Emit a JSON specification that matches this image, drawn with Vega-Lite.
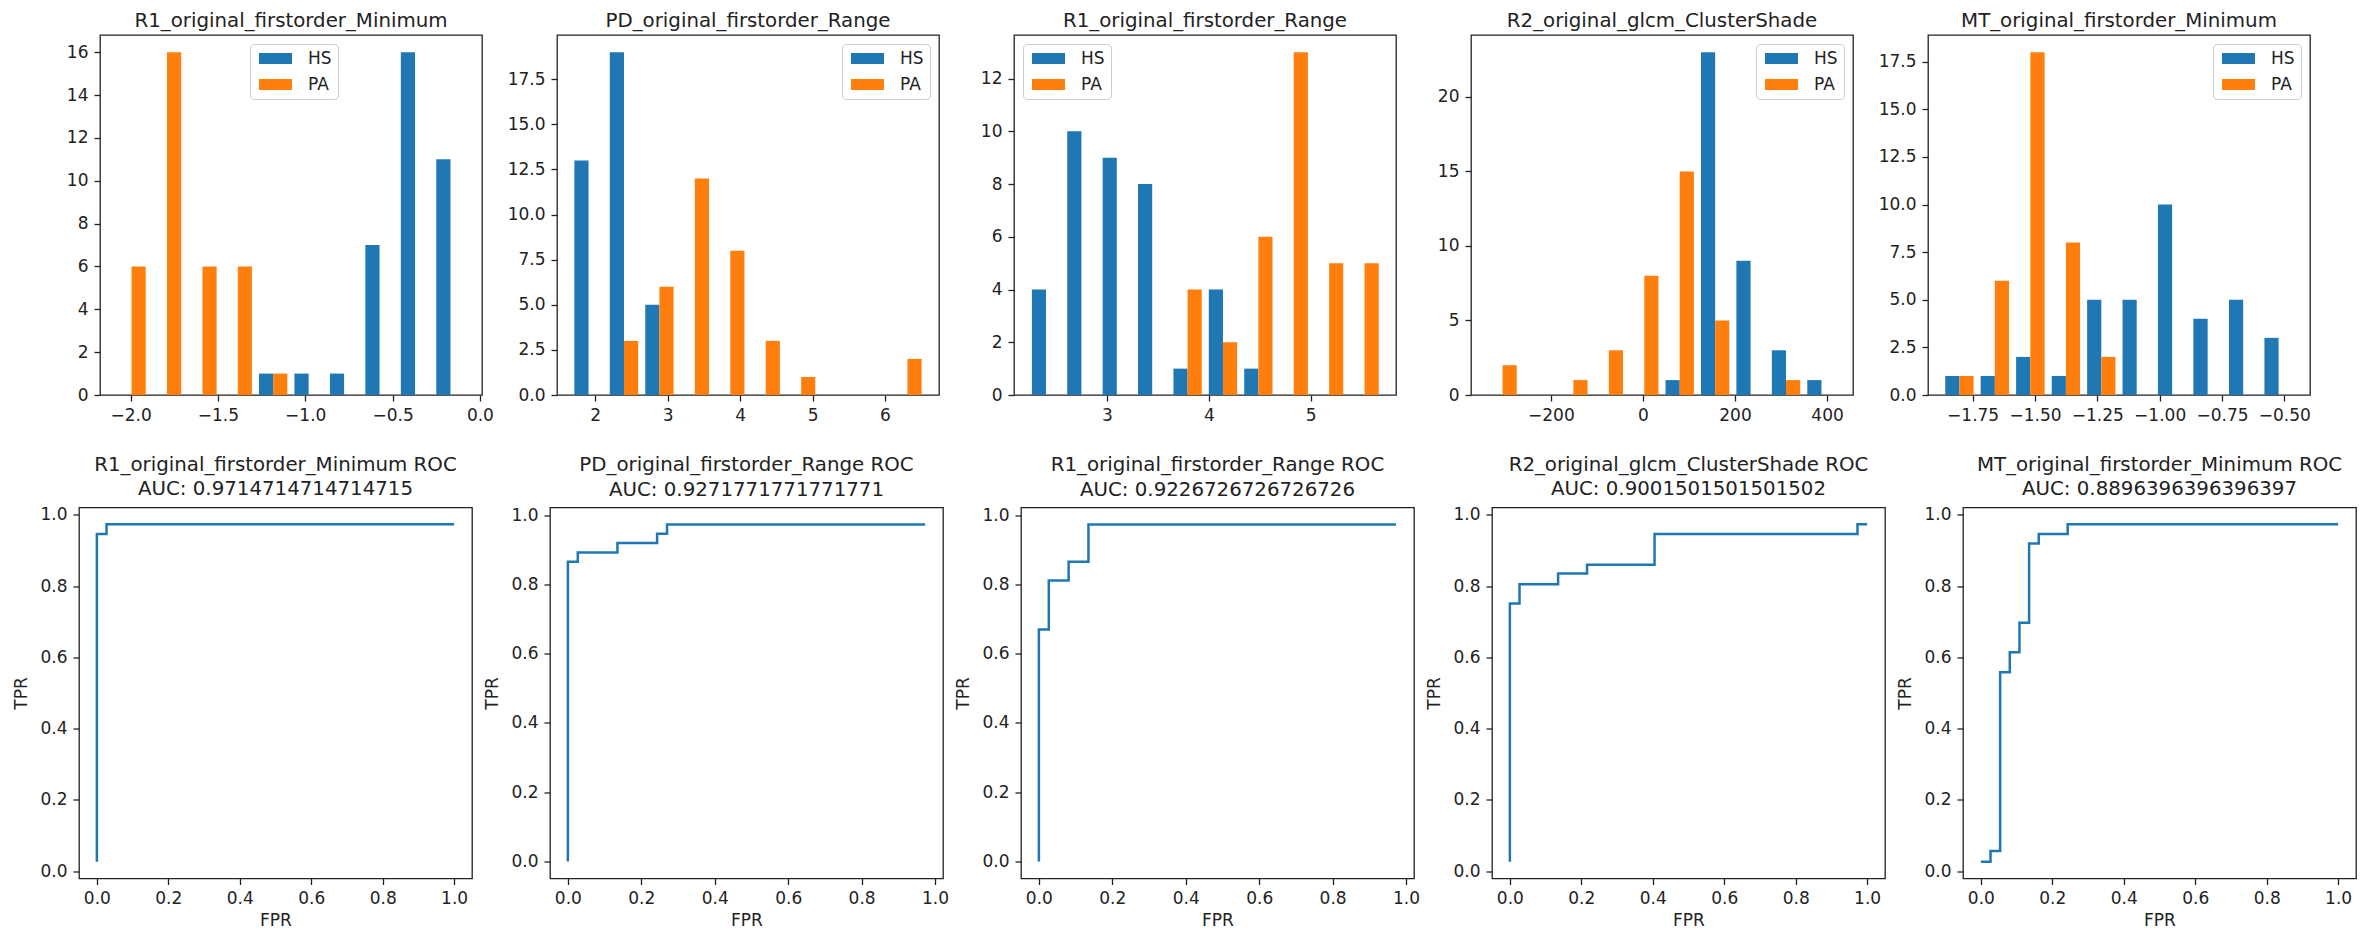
{
  "$schema": "https://vega.github.io/schema/vega-lite/v6.json",
  "background": "white",
  "padding": {"left": 12, "top": 10, "right": 0, "bottom": 0},
  "datasets": {
    "hist": [
      {"feature": "R1_original_firstorder_Minimum", "lo": -2.096, "hi": -1.893, "group": "PA", "count": 6},
      {"feature": "R1_original_firstorder_Minimum", "lo": -1.893, "hi": -1.690, "group": "PA", "count": 16},
      {"feature": "R1_original_firstorder_Minimum", "lo": -1.690, "hi": -1.487, "group": "PA", "count": 6},
      {"feature": "R1_original_firstorder_Minimum", "lo": -1.487, "hi": -1.285, "group": "PA", "count": 6},
      {"feature": "R1_original_firstorder_Minimum", "lo": -1.285, "hi": -1.082, "group": "HS", "count": 1},
      {"feature": "R1_original_firstorder_Minimum", "lo": -1.285, "hi": -1.082, "group": "PA", "count": 1},
      {"feature": "R1_original_firstorder_Minimum", "lo": -1.082, "hi": -0.879, "group": "HS", "count": 1},
      {"feature": "R1_original_firstorder_Minimum", "lo": -0.879, "hi": -0.676, "group": "HS", "count": 1},
      {"feature": "R1_original_firstorder_Minimum", "lo": -0.676, "hi": -0.473, "group": "HS", "count": 7},
      {"feature": "R1_original_firstorder_Minimum", "lo": -0.473, "hi": -0.270, "group": "HS", "count": 16},
      {"feature": "R1_original_firstorder_Minimum", "lo": -0.270, "hi": -0.067, "group": "HS", "count": 11},

      {"feature": "PD_original_firstorder_Range", "lo": 1.664, "hi": 2.153, "group": "HS", "count": 13},
      {"feature": "PD_original_firstorder_Range", "lo": 2.153, "hi": 2.642, "group": "HS", "count": 19},
      {"feature": "PD_original_firstorder_Range", "lo": 2.153, "hi": 2.642, "group": "PA", "count": 3},
      {"feature": "PD_original_firstorder_Range", "lo": 2.642, "hi": 3.131, "group": "HS", "count": 5},
      {"feature": "PD_original_firstorder_Range", "lo": 2.642, "hi": 3.131, "group": "PA", "count": 6},
      {"feature": "PD_original_firstorder_Range", "lo": 3.131, "hi": 3.620, "group": "PA", "count": 12},
      {"feature": "PD_original_firstorder_Range", "lo": 3.620, "hi": 4.109, "group": "PA", "count": 8},
      {"feature": "PD_original_firstorder_Range", "lo": 4.109, "hi": 4.598, "group": "PA", "count": 3},
      {"feature": "PD_original_firstorder_Range", "lo": 4.598, "hi": 5.087, "group": "PA", "count": 1},
      {"feature": "PD_original_firstorder_Range", "lo": 6.065, "hi": 6.554, "group": "PA", "count": 2},

      {"feature": "R1_original_firstorder_Range", "lo": 2.228, "hi": 2.575, "group": "HS", "count": 4},
      {"feature": "R1_original_firstorder_Range", "lo": 2.575, "hi": 2.923, "group": "HS", "count": 10},
      {"feature": "R1_original_firstorder_Range", "lo": 2.923, "hi": 3.270, "group": "HS", "count": 9},
      {"feature": "R1_original_firstorder_Range", "lo": 3.270, "hi": 3.618, "group": "HS", "count": 8},
      {"feature": "R1_original_firstorder_Range", "lo": 3.618, "hi": 3.965, "group": "HS", "count": 1},
      {"feature": "R1_original_firstorder_Range", "lo": 3.618, "hi": 3.965, "group": "PA", "count": 4},
      {"feature": "R1_original_firstorder_Range", "lo": 3.965, "hi": 4.313, "group": "HS", "count": 4},
      {"feature": "R1_original_firstorder_Range", "lo": 3.965, "hi": 4.313, "group": "PA", "count": 2},
      {"feature": "R1_original_firstorder_Range", "lo": 4.313, "hi": 4.660, "group": "HS", "count": 1},
      {"feature": "R1_original_firstorder_Range", "lo": 4.313, "hi": 4.660, "group": "PA", "count": 6},
      {"feature": "R1_original_firstorder_Range", "lo": 4.660, "hi": 5.008, "group": "PA", "count": 13},
      {"feature": "R1_original_firstorder_Range", "lo": 5.008, "hi": 5.355, "group": "PA", "count": 5},
      {"feature": "R1_original_firstorder_Range", "lo": 5.355, "hi": 5.703, "group": "PA", "count": 5},

      {"feature": "R2_original_glcm_ClusterShade", "lo": -343.5, "hi": -266.5, "group": "PA", "count": 2},
      {"feature": "R2_original_glcm_ClusterShade", "lo": -189.6, "hi": -112.6, "group": "PA", "count": 1},
      {"feature": "R2_original_glcm_ClusterShade", "lo": -112.6, "hi": -35.6, "group": "PA", "count": 3},
      {"feature": "R2_original_glcm_ClusterShade", "lo": -35.6, "hi": 41.4, "group": "PA", "count": 8},
      {"feature": "R2_original_glcm_ClusterShade", "lo": 41.4, "hi": 118.4, "group": "HS", "count": 1},
      {"feature": "R2_original_glcm_ClusterShade", "lo": 41.4, "hi": 118.4, "group": "PA", "count": 15},
      {"feature": "R2_original_glcm_ClusterShade", "lo": 118.4, "hi": 195.3, "group": "HS", "count": 23},
      {"feature": "R2_original_glcm_ClusterShade", "lo": 118.4, "hi": 195.3, "group": "PA", "count": 5},
      {"feature": "R2_original_glcm_ClusterShade", "lo": 195.3, "hi": 272.3, "group": "HS", "count": 9},
      {"feature": "R2_original_glcm_ClusterShade", "lo": 272.3, "hi": 349.3, "group": "HS", "count": 3},
      {"feature": "R2_original_glcm_ClusterShade", "lo": 272.3, "hi": 349.3, "group": "PA", "count": 1},
      {"feature": "R2_original_glcm_ClusterShade", "lo": 349.3, "hi": 426.3, "group": "HS", "count": 1},

      {"feature": "MT_original_firstorder_Minimum", "lo": -1.874, "hi": -1.732, "group": "HS", "count": 1},
      {"feature": "MT_original_firstorder_Minimum", "lo": -1.874, "hi": -1.732, "group": "PA", "count": 1},
      {"feature": "MT_original_firstorder_Minimum", "lo": -1.732, "hi": -1.590, "group": "HS", "count": 1},
      {"feature": "MT_original_firstorder_Minimum", "lo": -1.732, "hi": -1.590, "group": "PA", "count": 6},
      {"feature": "MT_original_firstorder_Minimum", "lo": -1.590, "hi": -1.447, "group": "HS", "count": 2},
      {"feature": "MT_original_firstorder_Minimum", "lo": -1.590, "hi": -1.447, "group": "PA", "count": 18},
      {"feature": "MT_original_firstorder_Minimum", "lo": -1.447, "hi": -1.305, "group": "HS", "count": 1},
      {"feature": "MT_original_firstorder_Minimum", "lo": -1.447, "hi": -1.305, "group": "PA", "count": 8},
      {"feature": "MT_original_firstorder_Minimum", "lo": -1.305, "hi": -1.163, "group": "HS", "count": 5},
      {"feature": "MT_original_firstorder_Minimum", "lo": -1.305, "hi": -1.163, "group": "PA", "count": 2},
      {"feature": "MT_original_firstorder_Minimum", "lo": -1.163, "hi": -1.021, "group": "HS", "count": 5},
      {"feature": "MT_original_firstorder_Minimum", "lo": -1.021, "hi": -0.879, "group": "HS", "count": 10},
      {"feature": "MT_original_firstorder_Minimum", "lo": -0.879, "hi": -0.736, "group": "HS", "count": 4},
      {"feature": "MT_original_firstorder_Minimum", "lo": -0.736, "hi": -0.594, "group": "HS", "count": 5},
      {"feature": "MT_original_firstorder_Minimum", "lo": -0.594, "hi": -0.452, "group": "HS", "count": 3}
    ],
    "roc": [
      {"feature": "R1_original_firstorder_Minimum", "step": 1, "fpr": 0, "tpr": 0.027},
      {"feature": "R1_original_firstorder_Minimum", "step": 2, "fpr": 0, "tpr": 0.946},
      {"feature": "R1_original_firstorder_Minimum", "step": 3, "fpr": 0.027, "tpr": 0.946},
      {"feature": "R1_original_firstorder_Minimum", "step": 4, "fpr": 0.027, "tpr": 0.973},
      {"feature": "R1_original_firstorder_Minimum", "step": 5, "fpr": 1.0, "tpr": 0.973},

      {"feature": "PD_original_firstorder_Range", "step": 1, "fpr": 0, "tpr": 0},
      {"feature": "PD_original_firstorder_Range", "step": 2, "fpr": 0, "tpr": 0.865},
      {"feature": "PD_original_firstorder_Range", "step": 3, "fpr": 0.027, "tpr": 0.865},
      {"feature": "PD_original_firstorder_Range", "step": 4, "fpr": 0.027, "tpr": 0.892},
      {"feature": "PD_original_firstorder_Range", "step": 5, "fpr": 0.135, "tpr": 0.892},
      {"feature": "PD_original_firstorder_Range", "step": 6, "fpr": 0.135, "tpr": 0.919},
      {"feature": "PD_original_firstorder_Range", "step": 7, "fpr": 0.243, "tpr": 0.919},
      {"feature": "PD_original_firstorder_Range", "step": 8, "fpr": 0.243, "tpr": 0.946},
      {"feature": "PD_original_firstorder_Range", "step": 9, "fpr": 0.270, "tpr": 0.946},
      {"feature": "PD_original_firstorder_Range", "step": 10, "fpr": 0.270, "tpr": 0.973},
      {"feature": "PD_original_firstorder_Range", "step": 11, "fpr": 0.973, "tpr": 0.973},

      {"feature": "R1_original_firstorder_Range", "step": 1, "fpr": 0, "tpr": 0},
      {"feature": "R1_original_firstorder_Range", "step": 2, "fpr": 0, "tpr": 0.670},
      {"feature": "R1_original_firstorder_Range", "step": 3, "fpr": 0.027, "tpr": 0.670},
      {"feature": "R1_original_firstorder_Range", "step": 4, "fpr": 0.027, "tpr": 0.811},
      {"feature": "R1_original_firstorder_Range", "step": 5, "fpr": 0.081, "tpr": 0.811},
      {"feature": "R1_original_firstorder_Range", "step": 6, "fpr": 0.081, "tpr": 0.865},
      {"feature": "R1_original_firstorder_Range", "step": 7, "fpr": 0.135, "tpr": 0.865},
      {"feature": "R1_original_firstorder_Range", "step": 8, "fpr": 0.135, "tpr": 0.973},
      {"feature": "R1_original_firstorder_Range", "step": 9, "fpr": 0.973, "tpr": 0.973},

      {"feature": "R2_original_glcm_ClusterShade", "step": 1, "fpr": 0, "tpr": 0.027},
      {"feature": "R2_original_glcm_ClusterShade", "step": 2, "fpr": 0, "tpr": 0.751},
      {"feature": "R2_original_glcm_ClusterShade", "step": 3, "fpr": 0.027, "tpr": 0.751},
      {"feature": "R2_original_glcm_ClusterShade", "step": 4, "fpr": 0.027, "tpr": 0.805},
      {"feature": "R2_original_glcm_ClusterShade", "step": 5, "fpr": 0.135, "tpr": 0.805},
      {"feature": "R2_original_glcm_ClusterShade", "step": 6, "fpr": 0.135, "tpr": 0.835},
      {"feature": "R2_original_glcm_ClusterShade", "step": 7, "fpr": 0.216, "tpr": 0.835},
      {"feature": "R2_original_glcm_ClusterShade", "step": 8, "fpr": 0.216, "tpr": 0.860},
      {"feature": "R2_original_glcm_ClusterShade", "step": 9, "fpr": 0.405, "tpr": 0.860},
      {"feature": "R2_original_glcm_ClusterShade", "step": 10, "fpr": 0.405, "tpr": 0.946},
      {"feature": "R2_original_glcm_ClusterShade", "step": 11, "fpr": 0.973, "tpr": 0.946},
      {"feature": "R2_original_glcm_ClusterShade", "step": 12, "fpr": 0.973, "tpr": 0.973},
      {"feature": "R2_original_glcm_ClusterShade", "step": 13, "fpr": 1.0, "tpr": 0.973},

      {"feature": "MT_original_firstorder_Minimum", "step": 1, "fpr": 0, "tpr": 0.027},
      {"feature": "MT_original_firstorder_Minimum", "step": 2, "fpr": 0.027, "tpr": 0.027},
      {"feature": "MT_original_firstorder_Minimum", "step": 3, "fpr": 0.027, "tpr": 0.057},
      {"feature": "MT_original_firstorder_Minimum", "step": 4, "fpr": 0.054, "tpr": 0.057},
      {"feature": "MT_original_firstorder_Minimum", "step": 5, "fpr": 0.054, "tpr": 0.558},
      {"feature": "MT_original_firstorder_Minimum", "step": 6, "fpr": 0.081, "tpr": 0.558},
      {"feature": "MT_original_firstorder_Minimum", "step": 7, "fpr": 0.081, "tpr": 0.614},
      {"feature": "MT_original_firstorder_Minimum", "step": 8, "fpr": 0.108, "tpr": 0.614},
      {"feature": "MT_original_firstorder_Minimum", "step": 9, "fpr": 0.108, "tpr": 0.697},
      {"feature": "MT_original_firstorder_Minimum", "step": 10, "fpr": 0.135, "tpr": 0.697},
      {"feature": "MT_original_firstorder_Minimum", "step": 11, "fpr": 0.135, "tpr": 0.919},
      {"feature": "MT_original_firstorder_Minimum", "step": 12, "fpr": 0.162, "tpr": 0.919},
      {"feature": "MT_original_firstorder_Minimum", "step": 13, "fpr": 0.162, "tpr": 0.946},
      {"feature": "MT_original_firstorder_Minimum", "step": 14, "fpr": 0.243, "tpr": 0.946},
      {"feature": "MT_original_firstorder_Minimum", "step": 15, "fpr": 0.243, "tpr": 0.973},
      {"feature": "MT_original_firstorder_Minimum", "step": 16, "fpr": 1.0, "tpr": 0.973}
    ]
  },
  "spacing": 29.5,
  "vconcat": [
    {
      "bounds": "flush",
      "spacing": 0,
      "hconcat": [
        {
          "width": 21, "height": 360,
          "data": {"values": []},
          "mark": "point",
          "view": {"stroke": null}
        },
        {
          "bounds": "flush",
          "spacing": 75,
          "resolve": {"legend": {"color": "independent"}},
          "hconcat": [
            {
              "width": 382, "height": 360,
              "title": "R1_original_firstorder_Minimum",
              "data": {"name": "hist"},
              "transform": [
                {"filter": "datum.feature === 'R1_original_firstorder_Minimum'"},
                {"calculate": "datum.lo + (datum.group === 'HS' ? 0.1 : 0.5) * (datum.hi - datum.lo)", "as": "bar_start"},
                {"calculate": "datum.lo + (datum.group === 'HS' ? 0.5 : 0.9) * (datum.hi - datum.lo)", "as": "bar_end"}
              ],
              "mark": {"type": "bar"},
              "encoding": {
                "x": {"field": "bar_start", "type": "quantitative", "scale": {"domain": [-2.175, 0.012], "nice": false, "zero": false}, "axis": {"values": [-2, -1.5, -1, -0.5, 0], "format": ".1f", "title": null}},
                "x2": {"field": "bar_end"},
                "y": {"field": "count", "type": "quantitative", "scale": {"domain": [0, 16.8], "nice": false}, "axis": {"values": [0, 2, 4, 6, 8, 10, 12, 14, 16], "format": "d", "title": null}},
                "y2": {"datum": 0},
                "color": {"field": "group", "type": "nominal", "scale": {"domain": ["HS", "PA"], "range": ["#1f77b4", "#ff7f0e"]}, "legend": {"title": null, "orient": "none", "legendX": 150, "legendY": 9}}
              }
            },
            {
              "width": 382, "height": 360,
              "title": "PD_original_firstorder_Range",
              "data": {"name": "hist"},
              "transform": [
                {"filter": "datum.feature === 'PD_original_firstorder_Range'"},
                {"calculate": "datum.lo + (datum.group === 'HS' ? 0.1 : 0.5) * (datum.hi - datum.lo)", "as": "bar_start"},
                {"calculate": "datum.lo + (datum.group === 'HS' ? 0.5 : 0.9) * (datum.hi - datum.lo)", "as": "bar_end"}
              ],
              "mark": {"type": "bar"},
              "encoding": {
                "x": {"field": "bar_start", "type": "quantitative", "scale": {"domain": [1.473, 6.745], "nice": false, "zero": false}, "axis": {"values": [2, 3, 4, 5, 6], "format": "d", "title": null}},
                "x2": {"field": "bar_end"},
                "y": {"field": "count", "type": "quantitative", "scale": {"domain": [0, 19.95], "nice": false}, "axis": {"values": [0, 2.5, 5, 7.5, 10, 12.5, 15, 17.5], "format": ".1f", "title": null}},
                "y2": {"datum": 0},
                "color": {"field": "group", "type": "nominal", "scale": {"domain": ["HS", "PA"], "range": ["#1f77b4", "#ff7f0e"]}, "legend": {"title": null, "orient": "top-right"}}
              }
            },
            {
              "width": 382, "height": 360,
              "title": "R1_original_firstorder_Range",
              "data": {"name": "hist"},
              "transform": [
                {"filter": "datum.feature === 'R1_original_firstorder_Range'"},
                {"calculate": "datum.lo + (datum.group === 'HS' ? 0.1 : 0.5) * (datum.hi - datum.lo)", "as": "bar_start"},
                {"calculate": "datum.lo + (datum.group === 'HS' ? 0.5 : 0.9) * (datum.hi - datum.lo)", "as": "bar_end"}
              ],
              "mark": {"type": "bar"},
              "encoding": {
                "x": {"field": "bar_start", "type": "quantitative", "scale": {"domain": [2.087, 5.838], "nice": false, "zero": false}, "axis": {"values": [3, 4, 5], "format": "d", "title": null}},
                "x2": {"field": "bar_end"},
                "y": {"field": "count", "type": "quantitative", "scale": {"domain": [0, 13.65], "nice": false}, "axis": {"values": [0, 2, 4, 6, 8, 10, 12], "format": "d", "title": null}},
                "y2": {"datum": 0},
                "color": {"field": "group", "type": "nominal", "scale": {"domain": ["HS", "PA"], "range": ["#1f77b4", "#ff7f0e"]}, "legend": {"title": null, "orient": "top-left"}}
              }
            },
            {
              "width": 382, "height": 360,
              "title": "R2_original_glcm_ClusterShade",
              "data": {"name": "hist"},
              "transform": [
                {"filter": "datum.feature === 'R2_original_glcm_ClusterShade'"},
                {"calculate": "datum.lo + (datum.group === 'HS' ? 0.1 : 0.5) * (datum.hi - datum.lo)", "as": "bar_start"},
                {"calculate": "datum.lo + (datum.group === 'HS' ? 0.5 : 0.9) * (datum.hi - datum.lo)", "as": "bar_end"}
              ],
              "mark": {"type": "bar"},
              "encoding": {
                "x": {"field": "bar_start", "type": "quantitative", "scale": {"domain": [-373.5, 456.3], "nice": false, "zero": false}, "axis": {"values": [-200, 0, 200, 400], "format": "d", "title": null}},
                "x2": {"field": "bar_end"},
                "y": {"field": "count", "type": "quantitative", "scale": {"domain": [0, 24.15], "nice": false}, "axis": {"values": [0, 5, 10, 15, 20], "format": "d", "title": null}},
                "y2": {"datum": 0},
                "color": {"field": "group", "type": "nominal", "scale": {"domain": ["HS", "PA"], "range": ["#1f77b4", "#ff7f0e"]}, "legend": {"title": null, "orient": "top-right"}}
              }
            },
            {
              "width": 382, "height": 360,
              "title": "MT_original_firstorder_Minimum",
              "data": {"name": "hist"},
              "transform": [
                {"filter": "datum.feature === 'MT_original_firstorder_Minimum'"},
                {"calculate": "datum.lo + (datum.group === 'HS' ? 0.1 : 0.5) * (datum.hi - datum.lo)", "as": "bar_start"},
                {"calculate": "datum.lo + (datum.group === 'HS' ? 0.5 : 0.9) * (datum.hi - datum.lo)", "as": "bar_end"}
              ],
              "mark": {"type": "bar"},
              "encoding": {
                "x": {"field": "bar_start", "type": "quantitative", "scale": {"domain": [-1.929, -0.397], "nice": false, "zero": false}, "axis": {"values": [-1.75, -1.5, -1.25, -1, -0.75, -0.5], "format": ".2f", "title": null}},
                "x2": {"field": "bar_end"},
                "y": {"field": "count", "type": "quantitative", "scale": {"domain": [0, 18.9], "nice": false}, "axis": {"values": [0, 2.5, 5, 7.5, 10, 12.5, 15, 17.5], "format": ".1f", "title": null}},
                "y2": {"datum": 0},
                "color": {"field": "group", "type": "nominal", "scale": {"domain": ["HS", "PA"], "range": ["#1f77b4", "#ff7f0e"]}, "legend": {"title": null, "orient": "top-right"}}
              }
            }
          ]
        }
      ]
    },
    {
      "bounds": "flush",
      "spacing": 78,
      "hconcat": [
        {
          "width": 393, "height": 371,
          "title": {"text": "R1_original_firstorder_Minimum ROC", "subtitle": "AUC: 0.9714714714714715", "offset": 6.5},
          "data": {"name": "roc"},
          "transform": [{"filter": "datum.feature === 'R1_original_firstorder_Minimum'"}],
          "mark": {"type": "line", "color": "#1f77b4", "strokeWidth": 2.5},
          "encoding": {
            "x": {"field": "fpr", "type": "quantitative", "scale": {"domain": [-0.05, 1.05], "nice": false, "zero": false}, "axis": {"values": [0, 0.2, 0.4, 0.6, 0.8, 1], "format": ".1f", "title": "FPR"}},
            "y": {"field": "tpr", "type": "quantitative", "scale": {"domain": [-0.0203, 1.0203], "nice": false, "zero": false}, "axis": {"values": [0, 0.2, 0.4, 0.6, 0.8, 1], "format": ".1f", "title": "TPR"}},
            "order": {"field": "step", "type": "quantitative"}
          }
        },
        {
          "width": 393, "height": 371,
          "title": {"text": "PD_original_firstorder_Range ROC", "subtitle": "AUC: 0.9271771771771771", "offset": 6.5},
          "data": {"name": "roc"},
          "transform": [{"filter": "datum.feature === 'PD_original_firstorder_Range'"}],
          "mark": {"type": "line", "color": "#1f77b4", "strokeWidth": 2.5},
          "encoding": {
            "x": {"field": "fpr", "type": "quantitative", "scale": {"domain": [-0.0487, 1.0217], "nice": false, "zero": false}, "axis": {"values": [0, 0.2, 0.4, 0.6, 0.8, 1], "format": ".1f", "title": "FPR"}},
            "y": {"field": "tpr", "type": "quantitative", "scale": {"domain": [-0.0487, 1.0217], "nice": false, "zero": false}, "axis": {"values": [0, 0.2, 0.4, 0.6, 0.8, 1], "format": ".1f", "title": "TPR"}},
            "order": {"field": "step", "type": "quantitative"}
          }
        },
        {
          "width": 393, "height": 371,
          "title": {"text": "R1_original_firstorder_Range ROC", "subtitle": "AUC: 0.9226726726726726", "offset": 6.5},
          "data": {"name": "roc"},
          "transform": [{"filter": "datum.feature === 'R1_original_firstorder_Range'"}],
          "mark": {"type": "line", "color": "#1f77b4", "strokeWidth": 2.5},
          "encoding": {
            "x": {"field": "fpr", "type": "quantitative", "scale": {"domain": [-0.0487, 1.0217], "nice": false, "zero": false}, "axis": {"values": [0, 0.2, 0.4, 0.6, 0.8, 1], "format": ".1f", "title": "FPR"}},
            "y": {"field": "tpr", "type": "quantitative", "scale": {"domain": [-0.0487, 1.0217], "nice": false, "zero": false}, "axis": {"values": [0, 0.2, 0.4, 0.6, 0.8, 1], "format": ".1f", "title": "TPR"}},
            "order": {"field": "step", "type": "quantitative"}
          }
        },
        {
          "width": 393, "height": 371,
          "title": {"text": "R2_original_glcm_ClusterShade ROC", "subtitle": "AUC: 0.9001501501501502", "offset": 6.5},
          "data": {"name": "roc"},
          "transform": [{"filter": "datum.feature === 'R2_original_glcm_ClusterShade'"}],
          "mark": {"type": "line", "color": "#1f77b4", "strokeWidth": 2.5},
          "encoding": {
            "x": {"field": "fpr", "type": "quantitative", "scale": {"domain": [-0.05, 1.05], "nice": false, "zero": false}, "axis": {"values": [0, 0.2, 0.4, 0.6, 0.8, 1], "format": ".1f", "title": "FPR"}},
            "y": {"field": "tpr", "type": "quantitative", "scale": {"domain": [-0.0203, 1.0203], "nice": false, "zero": false}, "axis": {"values": [0, 0.2, 0.4, 0.6, 0.8, 1], "format": ".1f", "title": "TPR"}},
            "order": {"field": "step", "type": "quantitative"}
          }
        },
        {
          "width": 393, "height": 371,
          "title": {"text": "MT_original_firstorder_Minimum ROC", "subtitle": "AUC: 0.8896396396396397", "offset": 6.5},
          "data": {"name": "roc"},
          "transform": [{"filter": "datum.feature === 'MT_original_firstorder_Minimum'"}],
          "mark": {"type": "line", "color": "#1f77b4", "strokeWidth": 2.5},
          "encoding": {
            "x": {"field": "fpr", "type": "quantitative", "scale": {"domain": [-0.05, 1.05], "nice": false, "zero": false}, "axis": {"values": [0, 0.2, 0.4, 0.6, 0.8, 1], "format": ".1f", "title": "FPR"}},
            "y": {"field": "tpr", "type": "quantitative", "scale": {"domain": [-0.0203, 1.0203], "nice": false, "zero": false}, "axis": {"values": [0, 0.2, 0.4, 0.6, 0.8, 1], "format": ".1f", "title": "TPR"}},
            "order": {"field": "step", "type": "quantitative"}
          }
        }
      ]
    }
  ],
  "config": {
    "font": "DejaVu Sans",
    "view": {"stroke": "#222222", "strokeWidth": 1.3},
    "axis": {
      "domain": false, "grid": false, "ticks": true,
      "tickSize": 6, "tickWidth": 1.3, "tickColor": "#222222",
      "labelFont": "DejaVu Sans", "labelFontSize": 17, "labelColor": "#222222", "labelPadding": 6,
      "labelFlush": false, "labelOverlap": false,
      "titleFont": "DejaVu Sans", "titleFontSize": 17, "titleFontWeight": "normal", "titleColor": "#222222"
    },
    "axisY": {"titlePadding": 9},
    "axisX": {"titlePadding": 6},
    "title": {
      "font": "DejaVu Sans", "fontSize": 19.8, "fontWeight": "normal", "color": "#222222",
      "anchor": "middle", "frame": "group", "offset": 0,
      "subtitleFont": "DejaVu Sans", "subtitleFontSize": 19.8, "subtitleFontWeight": "normal", "subtitleColor": "#222222", "subtitlePadding": 4.5
    },
    "legend": {
      "labelFont": "DejaVu Sans", "labelFontSize": 17, "labelColor": "#222222",
      "symbolType": "M-1,-1H5V1H-1Z", "symbolSize": 121, "symbolStrokeWidth": 0, "symbolOpacity": 1,
      "labelOffset": 35, "rowPadding": 8, "padding": 6,
      "strokeColor": "#cccccc", "fillColor": "rgba(255,255,255,0.8)", "cornerRadius": 4, "offset": 9
    }
  }
}
